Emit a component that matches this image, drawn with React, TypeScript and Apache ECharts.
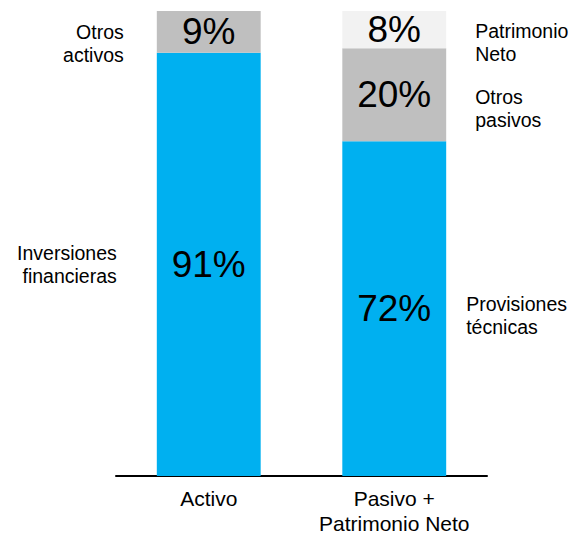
import React, { useEffect, useRef } from "react";
import * as echarts from "echarts";

const categories = ["Activo", "Pasivo +\nPatrimonio Neto"];
const blueValues = [91, 72];
const grayValues = [9, 20];
const lightValues = [0, 8];
const blueNames = ["Inversiones\nfinancieras", "Provisiones\ntécnicas"];
const grayNames = ["Otros\nactivos", "Otros\npasivos"];
const lightNames = ["", "Patrimonio\nNeto"];

const FONT = "'Liberation Sans', Arial, sans-serif";

export default function App() {
  const ref = useRef<HTMLDivElement>(null);
  useEffect(() => {
    document.body.style.margin = "0";
    const chart = echarts.init(ref.current!, null, { renderer: "svg" });
    const valueLabel = {
      show: true,
      position: "inside",
      color: "#000",
      fontSize: 37,
      fontFamily: FONT,
      formatter: (p: any) => (p.value ? p.value + "%" : ""),
    };
    const mkBar = (name: string, data: number[], color: string) => ({
      name,
      type: "bar",
      stack: "main",
      barWidth: "56%",
      data,
      itemStyle: { color },
      label: valueLabel,
    });
    const mkGhost = (
      name: string,
      data: number[],
      names: string[],
      cfg: { distance: number; offsetY: number }[]
    ) => ({
      name: name + "-label",
      type: "bar",
      stack: "ghost",
      barWidth: "56%",
      barGap: "-100%",
      silent: true,
      itemStyle: { color: "rgba(0,0,0,0)" },
      data: data.map((v, i) => ({
        value: v,
        label: {
          show: !!names[i],
          position: i === 0 ? "left" : "right",
          distance: cfg[i].distance,
          offset: [0, cfg[i].offsetY],
          formatter: names[i],
          color: "#000",
          fontSize: 19.5,
          lineHeight: 23,
          fontFamily: FONT,
        },
      })),
    });
    chart.setOption({
      animation: false,
      grid: { left: 116, right: 88, top: 11, bottom: 58 },
      xAxis: {
        type: "category",
        data: categories,
        axisLine: { lineStyle: { color: "#000", width: 2 } },
        axisTick: { show: false },
        axisLabel: {
          interval: 0,
          color: "#000",
          fontSize: 21,
          lineHeight: 25,
          fontFamily: FONT,
          margin: 10,
        },
      },
      yAxis: { type: "value", min: 0, max: 100, show: false },
      series: [
        mkBar("blue", blueValues, "#00B0F0"),
        mkBar("gray", grayValues, "#BFBFBF"),
        mkBar("light", lightValues, "#F2F2F2"),
        mkGhost("blue", blueValues, blueNames, [
          { distance: 40, offsetY: 0 },
          { distance: 20, offsetY: 7 },
        ]),
        mkGhost("gray", grayValues, grayNames, [
          { distance: 33, offsetY: 12 },
          { distance: 29, offsetY: 14 },
        ]),
        mkGhost("light", lightValues, lightNames, [
          { distance: 30, offsetY: 0 },
          { distance: 29, offsetY: 13 },
        ]),
      ],
    });
    return () => chart.dispose();
  }, []);
  return <div ref={ref} style={{ width: 575, height: 536 }} />;
}
